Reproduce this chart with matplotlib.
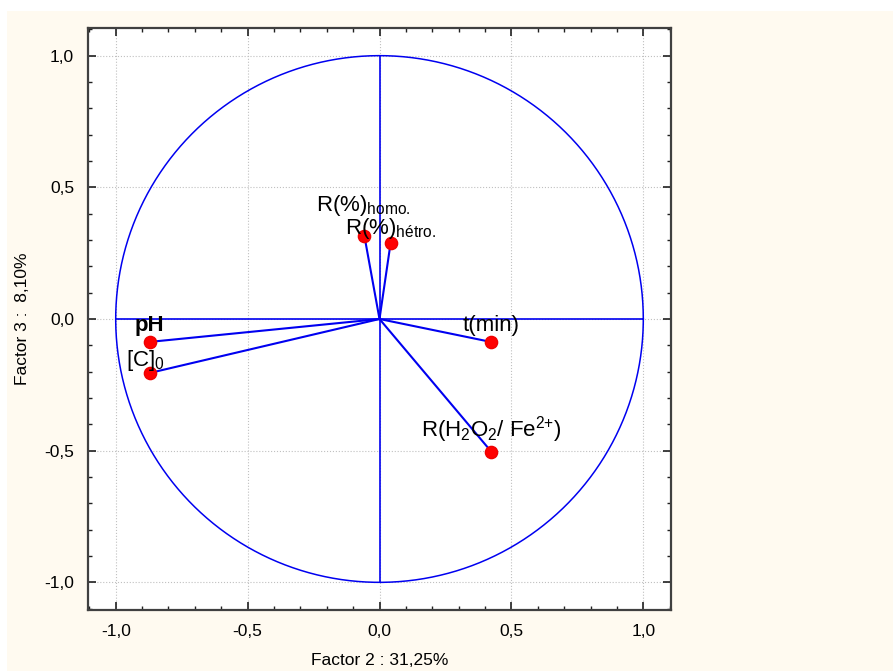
import matplotlib
matplotlib.use("Agg")
import matplotlib.pyplot as plt
import numpy as np
from matplotlib.patches import Rectangle
from matplotlib.ticker import MultipleLocator, FuncFormatter

plt.rcParams['font.family'] = ['Liberation Sans', 'DejaVu Sans']
plt.rcParams['mathtext.fontset'] = 'custom'
plt.rcParams['mathtext.rm'] = 'Liberation Sans'
plt.rcParams['mathtext.it'] = 'Liberation Sans'
plt.rcParams['mathtext.default'] = 'regular'

# variable loadings on factors 2 and 3
labels = ['pH', '[C]$_0$', 'R(%)$_{homo.}$', 'R(%)$_{hétro.}$', 't(min)',
          'R(H$_2$O$_2$/ Fe$^{2{+}}$)']
factor2 = [-0.871, -0.871, -0.057, 0.042, 0.422, 0.424]
factor3 = [-0.087, -0.205, 0.314, 0.288, -0.087, -0.504]
# label offsets in points (dx, dy)
label_offsets = [(0, 4.5), (-3, 0), (-1, 13.5), (0, 1.5), (0, 4), (0, 4.5)]
label_weights = ['bold', 'normal', 'normal', 'normal', 'normal', 'normal']

fig = plt.figure(figsize=(8.93, 6.71), dpi=100)
fig.patches.append(Rectangle((7 / 893, 0), 1, 1 - 11 / 671, transform=fig.transFigure,
                             facecolor='#fffaf0', edgecolor='none', zorder=-1))
ax = fig.add_axes([88 / 893, 1 - 610 / 671, 583 / 893, 582 / 671])
ax.set_facecolor('white')

# unit circle and axes through the origin
theta = np.linspace(0, 2 * np.pi, 400)
ax.plot(np.cos(theta), np.sin(theta), color='#0000f0', lw=1.1, zorder=2)
ax.plot([-1, 1], [0, 0], color='#0000f0', lw=1.2, zorder=2)
ax.plot([0, 0], [-1, 1], color='#0000f0', lw=1.2, zorder=2)

for x, y in zip(factor2, factor3):
    ax.plot([0, x], [0, y], color='#0000f0', lw=1.5, zorder=3)
ax.plot(factor2, factor3, 'o', color='#ff0000', ms=8.8, mec='#ee0000', zorder=4)

for lab, x, y, off, w in zip(labels, factor2, factor3, label_offsets, label_weights):
    ax.annotate(lab, (x, y), xytext=off, textcoords='offset points',
                ha='center', va='bottom', fontsize=16, fontweight=w, zorder=5)

ax.set_xlim(-1.105, 1.105)
ax.set_ylim(-1.105, 1.105)
for a in (ax.xaxis, ax.yaxis):
    a.set_major_locator(MultipleLocator(0.5))
    a.set_minor_locator(MultipleLocator(0.1))
    a.set_major_formatter(FuncFormatter(lambda v, p: f'{v:.1f}'.replace('.', ',')))
ax.tick_params(which='both', direction='in', top=True, right=True, color='#202020')
ax.tick_params(which='major', length=6, width=1.2, labelsize=12.5, pad=10)
ax.tick_params(which='minor', length=3, width=1)
ax.grid(True, which='major', color='#c0c0c0', ls=':', lw=0.8, zorder=1)
for s in ax.spines.values():
    s.set_color('#404040')
    s.set_linewidth(1.6)

ax.set_xlabel('Factor 2 : 31,25%', fontsize=12.5, labelpad=10)
ax.set_ylabel('Factor 3 :  8,10%', fontsize=12.5, labelpad=10)

fig.savefig('out.png', dpi=100)
